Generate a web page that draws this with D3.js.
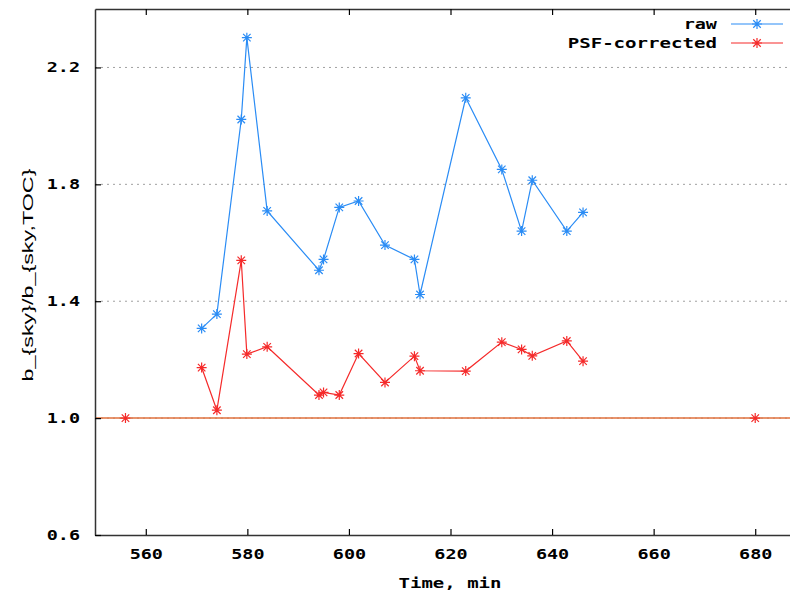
<!DOCTYPE html>
<html>
<head>
<meta charset="utf-8">
<script src="https://cdn.jsdelivr.net/npm/d3@7"></script>
<style>
  body { margin: 0; background: #fff; }
  svg { display: block; }
  .mono { font-family: "DejaVu Sans Mono", "Liberation Mono", monospace; font-size: 14px; font-weight: bold; fill: #000; }
</style>
</head>
<body>
<div id="chart"></div>
<script>
// --- dados ---
const timeMin = [571, 574, 578.8, 579.9, 583.9, 594.1, 595, 598.1, 601.9, 607.1, 612.9, 614, 623, 630.1, 634, 636.1, 642.9, 646.1];
const rawVals = [1.307, 1.356, 2.022, 2.302, 1.709, 1.506, 1.543, 1.721, 1.743, 1.592, 1.543, 1.423, 2.096, 1.851, 1.640, 1.814, 1.640, 1.704];
const psfVals = [1.173, 1.027, 1.540, 1.219, 1.244, 1.079, 1.088, 1.079, 1.221, 1.122, 1.212, 1.162, 1.161, 1.260, 1.235, 1.213, 1.264, 1.195];
const refTimes = [556, 680];
const refValue = 1.0;
const xTicks = [560, 580, 600, 620, 640, 660, 680];
const yTicks = [0.6, 1.0, 1.4, 1.8, 2.2];
const series = [
    { name: "raw", values: rawVals, color: "#2a8cf5" },
    { name: "PSF-corrected", values: psfVals, color: "#f52a2a" }
];

const W = 790, H = 594;
const margin = { top: 9, right: -16, bottom: 59, left: 95 };
const charW = 11.6; // avanço por caractere da fonte do gnuplot

// estica os glifos para imitar a fonte larga
function stretch(sel) {
    sel.each(function () {
        const n = this.textContent.length;
        if (n > 0) d3.select(this).attr("textLength", n * charW - 1.5).attr("lengthAdjust", "spacingAndGlyphs");
    });
}

const svg = d3.select("#chart").append("svg")
    .attr("width", W).attr("height", H);

const x = d3.scaleLinear().domain([550, 690]).range([margin.left, W - margin.right]);
const y = d3.scaleLinear().domain([0.6, 2.4]).range([H - margin.bottom, margin.top]);

// Grade pontilhada
svg.append("g").selectAll("line")
    .data(yTicks.filter(t => t > 0.6))
    .join("line")
    .attr("x1", x(550)).attr("x2", x(690))
    .attr("y1", d => y(d)).attr("y2", d => y(d))
    .attr("stroke", "#a0a0a0")
    .attr("stroke-width", 1)
    .attr("stroke-dasharray", "2,4");

// Linha de referência (1.0)
svg.append("line")
    .attr("x1", x(550)).attr("x2", x(690))
    .attr("y1", y(refValue)).attr("y2", y(refValue))
    .attr("stroke", "#e0703c")
    .attr("stroke-width", 1.5);

// Eixos (ticks para dentro, estilo gnuplot)
const axB = d3.axisBottom(x).tickValues(xTicks).tickSizeInner(-6).tickSizeOuter(0).tickPadding(14).tickFormat(d3.format("d"));
const axT = d3.axisTop(x).tickValues(xTicks).tickSizeInner(-6).tickSizeOuter(0).tickFormat("");
const axL = d3.axisLeft(y).tickValues(yTicks).tickSizeInner(-6).tickSizeOuter(0).tickPadding(15).tickFormat(d3.format(".1f"));

[[axB, `translate(0,${y(0.6)})`], [axT, `translate(0,${y(2.4)})`], [axL, `translate(${x(550)},0)`]].forEach(([ax, tr]) => {
    const g = svg.append("g").attr("transform", tr).call(ax);
    g.attr("font-family", null).attr("font-size", null);
    g.select(".domain").attr("stroke", "#333").attr("stroke-width", 1.5);
    g.selectAll(".tick line").attr("stroke", "#000").attr("stroke-width", 1.2);
    g.selectAll("text").attr("class", "mono").call(stretch);
});

// Marcador estrela (ponto tipo 3 do gnuplot)
function star(g, cx, cy, color) {
    const r = 5;
    const p = `M${cx - r},${cy}L${cx + r},${cy}M${cx},${cy - r}L${cx},${cy + r}` +
        `M${cx - r * 0.75},${cy - r * 0.75}L${cx + r * 0.75},${cy + r * 0.75}` +
        `M${cx - r * 0.75},${cy + r * 0.75}L${cx + r * 0.75},${cy - r * 0.75}`;
    g.append("path").attr("d", p).attr("stroke", color).attr("stroke-width", 1.2).attr("fill", "none");
}

const line = d3.line().x(d => x(d[0])).y(d => y(d[1]));

series.forEach(s => {
    const pts = timeMin.map((t, i) => [t, s.values[i]]);
    const g = svg.append("g");
    g.append("path").datum(pts)
        .attr("d", line)
        .attr("fill", "none")
        .attr("stroke", s.color)
        .attr("stroke-width", 1.2);
    pts.forEach(p => star(g, x(p[0]), y(p[1]), s.color));
});

// Pontos isolados sobre a referência
refTimes.forEach(t => star(svg, x(t), y(refValue), "#f52a2a"));

// Legenda
series.forEach((s, i) => {
    const ly = 24 + i * 19;
    svg.append("text").attr("class", "mono")
        .attr("x", 717).attr("y", ly + 5)
        .attr("text-anchor", "end")
        .text(s.name)
        .call(stretch);
    svg.append("line")
        .attr("x1", 731).attr("x2", 783)
        .attr("y1", ly).attr("y2", ly)
        .attr("stroke", s.color).attr("stroke-width", 1.2);
    star(svg, 757, ly, s.color);
});

// Rótulos dos eixos
svg.append("text").attr("class", "mono")
    .attr("x", 450).attr("y", 588)
    .attr("text-anchor", "middle")
    .text("Time, min")
    .call(stretch);

svg.append("text")
    .attr("transform", `translate(33,${275}) rotate(-90)`)
    .attr("text-anchor", "middle")
    .attr("font-family", "Liberation Sans, Arial, sans-serif")
    .attr("font-size", 15)
    .attr("textLength", 213)
    .attr("lengthAdjust", "spacingAndGlyphs")
    .text("b_{sky}/b_{sky,TOC}");
</script>
</body>
</html>
